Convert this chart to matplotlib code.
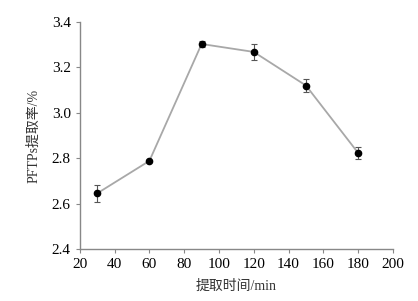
import matplotlib
matplotlib.use("Agg")
import matplotlib.pyplot as plt

# 提取时间 vs PFTPs 提取率
time_min = [30, 60, 90, 120, 150, 180]
rate = [2.645, 2.788, 3.303, 3.268, 3.120, 2.823]
err = [0.037, 0.006, 0.015, 0.037, 0.030, 0.027]

x_ticks = [20, 40, 60, 80, 100, 120, 140, 160, 180, 200]
y_ticks = [2.4, 2.6, 2.8, 3.0, 3.2, 3.4]

plt.rcParams['font.family'] = ['Liberation Serif', 'Noto Sans CJK SC']

fig = plt.figure(figsize=(4.18, 3.01), dpi=100)
ax = fig.add_axes([0.191, 0.173, 0.749, 0.754])

ax.plot(time_min, rate, color='#a8a8a8', lw=1.3, zorder=1)
ax.errorbar(time_min, rate, yerr=err, fmt='o', color='black', ms=4.5,
            ecolor='#555555', elinewidth=0.8, capsize=2.5, capthick=0.8, zorder=2)

ax.set_xlim(20, 200)
ax.set_ylim(2.4, 3.4)
ax.set_xticks(x_ticks)
ax.set_yticks(y_ticks)
ax.set_yticklabels([f"{v:.1f}" for v in y_ticks])

for s in ['top', 'right']:
    ax.spines[s].set_visible(False)
for s in ['left', 'bottom']:
    ax.spines[s].set_color('#888888')
    ax.spines[s].set_linewidth(1.0)
ax.tick_params(direction='out', length=3, width=0.8, color='#888888',
               labelsize=11, labelcolor='black')

ax.set_xlabel("提取时间/min", fontsize=10, color='#333333', labelpad=6)
ax.set_ylabel("PFTPs提取率/%", fontsize=10, color='#333333', labelpad=8)

fig.savefig("out.png", dpi=100)
